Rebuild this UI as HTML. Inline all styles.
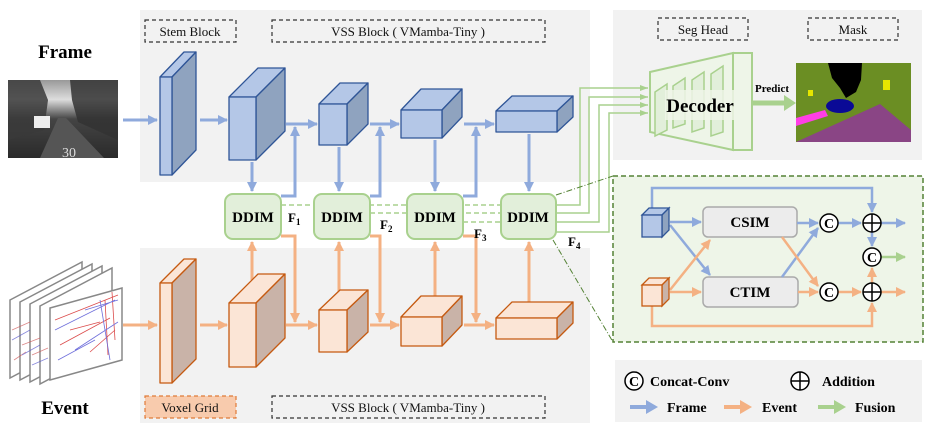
<!DOCTYPE html>
<html><head><meta charset="utf-8"><style>body{margin:0;background:#fff}svg{display:block}text{font-family:"Liberation Serif",serif}</style></head><body>
<svg width="930" height="430" viewBox="0 0 930 430" xmlns="http://www.w3.org/2000/svg">
<defs>
<marker id="mb" markerWidth="10" markerHeight="10" refX="9" refY="5" orient="auto" markerUnits="userSpaceOnUse"><polygon points="0,0 10,5 0,10" fill="#8faadc"/></marker>
<marker id="mo" markerWidth="10" markerHeight="10" refX="9" refY="5" orient="auto" markerUnits="userSpaceOnUse"><polygon points="0,0 10,5 0,10" fill="#f4b183"/></marker>
<marker id="mg" markerWidth="10" markerHeight="10" refX="9" refY="5" orient="auto" markerUnits="userSpaceOnUse"><polygon points="0,0 10,5 0,10" fill="#a9d18e"/></marker>
<marker id="mgs" markerWidth="8" markerHeight="6" refX="8" refY="3" orient="auto" markerUnits="userSpaceOnUse"><polygon points="0,0 8,3 0,6" fill="#a9d18e"/></marker>
<linearGradient id="ph" x1="0" y1="0" x2="0" y2="1"><stop offset="0" stop-color="#999"/><stop offset="0.25" stop-color="#ddd"/><stop offset="0.5" stop-color="#444"/><stop offset="1" stop-color="#2a2a2a"/></linearGradient>
</defs>
<rect x="140" y="10" width="450" height="172" fill="#f2f2f2"/>
<rect x="140" y="248" width="450" height="175" fill="#f2f2f2"/>
<rect x="613" y="10" width="309" height="150" fill="#f2f2f2"/>
<rect x="615" y="360" width="307" height="62" fill="#f2f2f2"/>
<g fill="none" stroke="#333" stroke-dasharray="4,3" stroke-width="1.2">
<rect x="145" y="20" width="91" height="22"/><rect x="272" y="20" width="273" height="22"/>
<rect x="658" y="18" width="90" height="22"/><rect x="808" y="18" width="90" height="22"/>
<rect x="272" y="396" width="273" height="22"/>
</g>
<rect x="145" y="396" width="91" height="22" fill="#f8cbad" stroke="#e07b39" stroke-dasharray="4,3" stroke-width="1.2"/>
<g font-size="13" text-anchor="middle" fill="#111">
<text x="190" y="36">Stem Block</text><text x="408" y="36">VSS Block ( VMamba-Tiny )</text>
<text x="703" y="34">Seg Head</text><text x="853" y="34">Mask</text>
<text x="190" y="412">Voxel Grid</text><text x="408" y="412">VSS Block ( VMamba-Tiny )</text>
</g>
<text x="65" y="58" font-size="19" font-weight="bold" text-anchor="middle">Frame</text>
<text x="65" y="414" font-size="19" font-weight="bold" text-anchor="middle">Event</text>
<!-- photo -->
<rect x="8" y="80" width="110" height="78" fill="url(#ph)"/>
<polygon points="8,80 40,80 48,100 44,130 8,140" fill="#3a3a3a" opacity="0.85"/>
<polygon points="70,80 118,80 118,140 78,122 72,100" fill="#333" opacity="0.85"/>
<polygon points="40,158 58,118 66,118 104,158" fill="#555"/>
<rect x="34" y="116" width="16" height="12" fill="#eee"/>
<text x="62" y="157" font-size="14" fill="#ddd" font-family="Liberation Sans">30</text>
<!-- event stack -->
<g stroke="#888" stroke-width="1.5" fill="#fff">
<polygon points="10,300 82,262 82,340 10,378"/><polygon points="20,302 92,264 92,342 20,380"/>
<polygon points="30,304 102,266 102,344 30,382"/><polygon points="40,306 112,268 112,346 40,384"/>
<polygon points="50,308 122,288 122,360 50,380"/>
</g>
<g stroke-width="0.8" opacity="0.7" fill="none">
<path d="M55,320 L118,295 M60,345 L110,318 M90,352 L115,330 M70,330 L100,322 M105,300 L108,355 M112,292 L115,340" stroke="#c00"/>
<path d="M55,330 L115,300 M75,350 L118,322 M100,300 L110,360 M58,360 L95,340 M85,310 L118,300" stroke="#33c"/>
<path d="M12,330 L30,322 M22,345 L40,338 M32,355 L48,348 M14,360 L26,352" stroke="#c55"/>
<path d="M12,340 L30,330 M22,355 L40,345 M32,365 L48,358" stroke="#55c"/>
</g>
<g stroke="#8faadc" stroke-width="3" fill="none" marker-end="url(#mb)">
<line x1="123" y1="120" x2="157" y2="120"/><line x1="200" y1="120" x2="227" y2="120"/>
<line x1="286" y1="124" x2="317" y2="124"/><line x1="370" y1="124" x2="399" y2="124"/>
<line x1="464" y1="124" x2="494" y2="124"/>
<line x1="252" y1="162" x2="252" y2="191"/><line x1="339" y1="147" x2="339" y2="191"/>
<line x1="435" y1="140" x2="435" y2="191"/><line x1="529" y1="134" x2="529" y2="191"/>
<polyline points="281,196 295,196 295,127"/><polyline points="370,196 380,196 380,127"/><polyline points="463,196 476,196 476,127"/>
</g>
<g stroke="#f4b183" stroke-width="3" fill="none" marker-end="url(#mo)">
<line x1="123" y1="325" x2="157" y2="325"/><line x1="200" y1="325" x2="227" y2="325"/>
<line x1="286" y1="325" x2="317" y2="325"/><line x1="370" y1="325" x2="399" y2="325"/>
<line x1="464" y1="325" x2="494" y2="325"/>
<line x1="252" y1="280" x2="252" y2="242"/><line x1="339" y1="298" x2="339" y2="242"/>
<line x1="435" y1="304" x2="435" y2="242"/><line x1="529" y1="310" x2="529" y2="242"/>
<polyline points="281,236 295,236 295,322"/><polyline points="370,236 380,236 380,322"/><polyline points="463,236 476,236 476,322"/>
</g>
<g stroke="#2f5597" stroke-width="1.3" stroke-linejoin="round">
<g><polygon points="160,77 184,52 196,52 172,77" fill="#b4c7e7"/><polygon points="172,77 196,52 196,150 172,175" fill="#8fa3bf"/><rect x="160" y="77" width="12" height="98" fill="#b4c7e7"/></g>
<g><polygon points="229,97 258,68 285,68 256,97" fill="#b4c7e7"/><polygon points="256,97 285,68 285,131 256,160" fill="#8fa3bf"/><rect x="229" y="97" width="27" height="63" fill="#b4c7e7"/></g>
<g><polygon points="319,104 340,83 368,83 347,104" fill="#b4c7e7"/><polygon points="347,104 368,83 368,124 347,145" fill="#8fa3bf"/><rect x="319" y="104" width="28" height="41" fill="#b4c7e7"/></g>
<g><polygon points="401,110 421,89 462,89 442,110" fill="#b4c7e7"/><polygon points="442,110 462,89 462,117 442,138" fill="#8fa3bf"/><rect x="401" y="110" width="41" height="28" fill="#b4c7e7"/></g>
<g><polygon points="496,111 512,96 573,96 557,111" fill="#b4c7e7"/><polygon points="557,111 573,96 573,117 557,132" fill="#8fa3bf"/><rect x="496" y="111" width="61" height="21" fill="#b4c7e7"/></g>
</g>
<g stroke="#c55a11" stroke-width="1.3" stroke-linejoin="round">
<g><polygon points="160,283 184,259 196,259 172,283" fill="#fbe5d6"/><polygon points="172,283 196,259 196,359 172,383" fill="#c9b3a8"/><rect x="160" y="283" width="12" height="100" fill="#fbe5d6"/></g>
<g><polygon points="229,303 258,274 285,274 256,303" fill="#fbe5d6"/><polygon points="256,303 285,274 285,338 256,367" fill="#c9b3a8"/><rect x="229" y="303" width="27" height="64" fill="#fbe5d6"/></g>
<g><polygon points="319,310 340,290 368,290 347,310" fill="#fbe5d6"/><polygon points="347,310 368,290 368,332 347,352" fill="#c9b3a8"/><rect x="319" y="310" width="28" height="42" fill="#fbe5d6"/></g>
<g><polygon points="401,317 421,296 462,296 442,317" fill="#fbe5d6"/><polygon points="442,317 462,296 462,325 442,346" fill="#c9b3a8"/><rect x="401" y="317" width="41" height="29" fill="#fbe5d6"/></g>
<g><polygon points="496,318 512,302 573,302 557,318" fill="#fbe5d6"/><polygon points="557,318 573,302 573,323 557,339" fill="#c9b3a8"/><rect x="496" y="318" width="61" height="21" fill="#fbe5d6"/></g>
</g>
<g stroke="#a9d18e" stroke-width="1.5" stroke-dasharray="5,3" fill="none">
<line x1="281" y1="205" x2="501" y2="205"/><line x1="370" y1="213" x2="501" y2="213"/><line x1="463" y1="222" x2="501" y2="222"/>
</g>
<g stroke="#a9d18e" stroke-width="1.5" fill="none" marker-end="url(#mgs)">
<polyline points="556,205 580,205 580,88 648,88"/><polyline points="556,213 589,213 589,97 648,97"/>
<polyline points="556,222 599,222 599,105 648,105"/><polyline points="556,232 609,232 609,113 648,113"/>
</g>
<g fill="#e2efda" stroke="#a9d18e" stroke-width="2">
<rect x="225" y="194" width="56" height="45" rx="8"/><rect x="314" y="194" width="56" height="45" rx="8"/>
<rect x="407" y="194" width="56" height="45" rx="8"/><rect x="501" y="194" width="55" height="45" rx="8"/>
</g>
<g font-size="15" font-weight="bold" text-anchor="middle">
<text x="253" y="222">DDIM</text><text x="342" y="222">DDIM</text><text x="435" y="222">DDIM</text><text x="528" y="222">DDIM</text>
</g>
<g font-size="13" font-weight="bold">
<text x="288" y="222">F<tspan font-size="9" dy="3">1</tspan></text>
<text x="380" y="229">F<tspan font-size="9" dy="3">2</tspan></text>
<text x="474" y="238">F<tspan font-size="9" dy="3">3</tspan></text>
<text x="568" y="246">F<tspan font-size="9" dy="3">4</tspan></text>
</g>
<g stroke="#548235" stroke-width="1" stroke-dasharray="6,2,1,2" fill="none">
<line x1="556" y1="195" x2="613" y2="176"/><line x1="553" y1="240" x2="613" y2="342"/>
</g>
<g stroke="#a9d18e" stroke-width="2" fill="#eef5e8">
<polygon points="650,72 733,53 733,150 650,132"/>
<rect x="733" y="53" width="19" height="97"/>
</g>
<g stroke="#a9d18e" stroke-width="1.5" fill="#e2efda">
<polygon points="655,92 667,84 667,130 655,136"/>
<polygon points="673,86 685,78 685,124 673,128"/>
<polygon points="692,80 704,72 704,128 692,132"/>
<polygon points="711,74 723,66 723,132 711,136"/>
</g>
<rect x="665" y="90" width="70" height="30" fill="#eef5e8" opacity="0.85"/>
<text x="700" y="112" font-size="19" font-weight="bold" text-anchor="middle">Decoder</text>
<line x1="752" y1="103" x2="786" y2="103" stroke="#a9d18e" stroke-width="5"/>
<polygon points="784,95 796,103 784,111" fill="#a9d18e"/>
<text x="772" y="92" font-size="11" font-weight="bold" text-anchor="middle">Predict</text>
<rect x="796" y="63" width="115" height="79" fill="#6b8e23"/>
<polygon points="796,142 880,104 911,130 911,142" fill="#8a4585"/>
<polygon points="796,118 825,110 828,116 796,126" fill="#ff3ee6"/>
<path d="M828,63 L862,63 L861,80 L856,92 L846,98 L840,88 L832,78 Z" fill="#000"/>
<ellipse cx="840" cy="106" rx="14" ry="7" fill="#0a0a96"/>
<rect x="883" y="80" width="7" height="10" fill="#e6e600"/><rect x="808" y="90" width="5" height="6" fill="#e6e600"/>
<rect x="613" y="176" width="310" height="166" fill="#eef5e8" stroke="#548235" stroke-width="1.5" stroke-dasharray="5,3"/>
<rect x="703" y="207" width="94" height="30" rx="5" fill="#ececec" stroke="#aaa" stroke-width="1.5"/>
<rect x="703" y="277" width="95" height="30" rx="5" fill="#ececec" stroke="#aaa" stroke-width="1.5"/>
<g font-size="15" font-weight="bold" text-anchor="middle"><text x="750" y="227">CSIM</text><text x="750" y="297">CTIM</text></g>
<g stroke="#8faadc" stroke-width="2.5" fill="none" marker-end="url(#mb)">
<polyline points="652,210 652,188 872,188 872,212"/>
<line x1="670" y1="222" x2="701" y2="222"/>
<line x1="670" y1="225" x2="710" y2="275"/>
<line x1="782" y1="277" x2="818" y2="228"/>
<line x1="797" y1="223" x2="818" y2="223"/>
<line x1="838" y1="223" x2="861" y2="223"/>
<line x1="881" y1="223" x2="905" y2="223"/>
<line x1="872" y1="232" x2="872" y2="246"/>
</g>
<g stroke="#f4b183" stroke-width="2.5" fill="none" marker-end="url(#mo)">
<polyline points="652,306 652,326 872,326 872,303"/>
<line x1="670" y1="292" x2="701" y2="292"/>
<line x1="670" y1="290" x2="710" y2="240"/>
<line x1="782" y1="237" x2="818" y2="286"/>
<line x1="798" y1="292" x2="818" y2="292"/>
<line x1="838" y1="292" x2="861" y2="292"/>
<line x1="881" y1="292" x2="905" y2="292"/>
<line x1="872" y1="283" x2="872" y2="268"/>
</g>
<line x1="881" y1="257" x2="905" y2="257" stroke="#a9d18e" stroke-width="2.5" marker-end="url(#mg)"/>
<g stroke="#2f5597" stroke-width="1.3"><polygon points="642,215 649,208 669,208 662,215" fill="#b4c7e7"/><polygon points="662,215 669,208 669,230 662,237" fill="#8fa3bf"/><rect x="642" y="215" width="20" height="22" fill="#b4c7e7"/></g>
<g stroke="#c55a11" stroke-width="1.3"><polygon points="642,285 649,278 669,278 662,285" fill="#fbe5d6"/><polygon points="662,285 669,278 669,299 662,306" fill="#c9b3a8"/><rect x="642" y="285" width="20" height="21" fill="#fbe5d6"/></g>
<g fill="#fff" stroke="#000" stroke-width="1.5">
<circle cx="829" cy="223" r="9"/><circle cx="829" cy="292" r="9"/><circle cx="872" cy="257" r="9"/>
<circle cx="872" cy="223" r="9"/><circle cx="872" cy="292" r="9"/>
<circle cx="634" cy="381" r="9"/><circle cx="800" cy="381" r="9"/>
</g>
<g stroke="#000" stroke-width="1.5">
<line x1="863" y1="223" x2="881" y2="223"/><line x1="872" y1="214" x2="872" y2="232"/>
<line x1="863" y1="292" x2="881" y2="292"/><line x1="872" y1="283" x2="872" y2="301"/>
<line x1="791" y1="381" x2="809" y2="381"/><line x1="800" y1="372" x2="800" y2="390"/>
</g>
<g font-size="14" font-weight="bold" text-anchor="middle">
<text x="829" y="228">C</text><text x="829" y="297">C</text><text x="872" y="262">C</text><text x="634" y="386">C</text>
</g>
<g font-size="14" font-weight="bold">
<text x="650" y="386">Concat-Conv</text><text x="822" y="386">Addition</text>
<text x="667" y="412">Frame</text><text x="762" y="412">Event</text><text x="855" y="412">Fusion</text>
</g>
<line x1="630" y1="407" x2="648" y2="407" stroke="#8faadc" stroke-width="4"/><polygon points="646,400 658,407 646,414" fill="#8faadc"/>
<line x1="724" y1="407" x2="742" y2="407" stroke="#f4b183" stroke-width="4"/><polygon points="740,400 752,407 740,414" fill="#f4b183"/>
<line x1="818" y1="407" x2="836" y2="407" stroke="#a9d18e" stroke-width="4"/><polygon points="834,400 846,407 834,414" fill="#a9d18e"/>
</svg>
</body></html>
